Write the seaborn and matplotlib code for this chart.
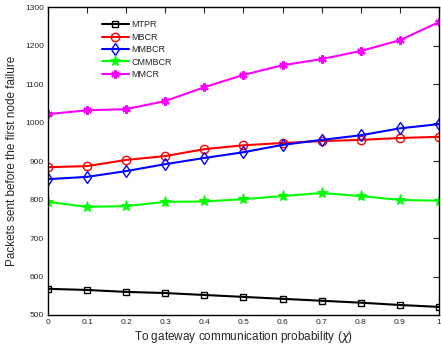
import pandas as pd
import seaborn as sns
import matplotlib
matplotlib.use('Agg')
import matplotlib.pyplot as plt

# values
chi = [0, 0.1, 0.2, 0.3, 0.4, 0.5, 0.6, 0.7, 0.8, 0.9, 1.0]
mtpr = [568, 565, 560, 557, 552, 547, 542, 537, 532, 526, 521]
mbcr = [884, 887, 903, 913, 931, 941, 947, 952, 955, 960, 963]
mmbcr = [853, 859, 874, 892, 908, 923, 942, 955, 967, 985, 996]
cmmbcr = [794, 781, 783, 794, 795, 801, 809, 817, 809, 799, 797]
mmcr = [1022, 1032, 1035, 1056, 1092, 1124, 1149, 1165, 1186, 1214, 1261]

series_names = ['MTPR', 'MBCR', 'MMBCR', 'CMMBCR', 'MMCR']
series_vals = [mtpr, mbcr, mmbcr, cmmbcr, mmcr]

data = pd.DataFrame({
    'chi': chi * len(series_names),
    'packets': sum(series_vals, []),
    'algo': [n for n in series_names for _ in chi],
})

sns.set_style('white')
plt.rcParams['font.family'] = ['Liberation Sans', 'DejaVu Sans']

styles = {
    'MTPR': dict(color='black', marker='s', ms=4.5, mfc='none', mew=1.0),
    'MBCR': dict(color='red', marker='o', ms=6, mfc='none', mew=1.0),
    'MMBCR': dict(color='blue', marker='d', ms=6, mfc='none', mew=1.0),
    'CMMBCR': dict(color='#00ff00', marker='*', ms=8, mfc='#00ff00', mew=0.8),
    'MMCR': dict(color='magenta', marker=(6, 2, 0), ms=6, mew=1.6),
}

fig = plt.figure(figsize=(4.41, 3.51), dpi=100)
ax = fig.add_axes([0.109, 0.1026, 0.886, 0.877])

for name in series_names:
    st = styles[name]
    sub = data[data['algo'] == name]
    sns.lineplot(data=sub, x='chi', y='packets', ax=ax, label=name,
                 color=st['color'], marker=st['marker'], markersize=st['ms'],
                 markerfacecolor=st.get('mfc', st['color']),
                 markeredgecolor=st['color'], markeredgewidth=st['mew'],
                 linewidth=1.5)

ax.set_xlim(0, 1)
ax.set_ylim(500, 1300)
ax.set_xticks(chi)
ax.set_xticklabels(['0', '0.1', '0.2', '0.3', '0.4', '0.5', '0.6', '0.7',
                    '0.8', '0.9', '1'])
ax.set_yticks(range(500, 1301, 100))
ax.tick_params(direction='in', length=4, width=0.8, labelsize=6,
               top=True, right=True, pad=3)
for s in ax.spines.values():
    s.set_linewidth(1.0)
    s.set_color('black')

ax.set_xlabel(r'To gateway communication probability ($\chi$)', fontsize=8.5,
              labelpad=2)
ax.set_ylabel('Packets sent before the first node failure', fontsize=8.5,
              labelpad=5)

leg = ax.legend(loc='upper left', bbox_to_anchor=(0.125, 0.975), frameon=False,
                fontsize=6.5, handlelength=2.9, labelspacing=0.38,
                handletextpad=0.3, borderaxespad=0.2)

fig.savefig('out.png', dpi=100)
